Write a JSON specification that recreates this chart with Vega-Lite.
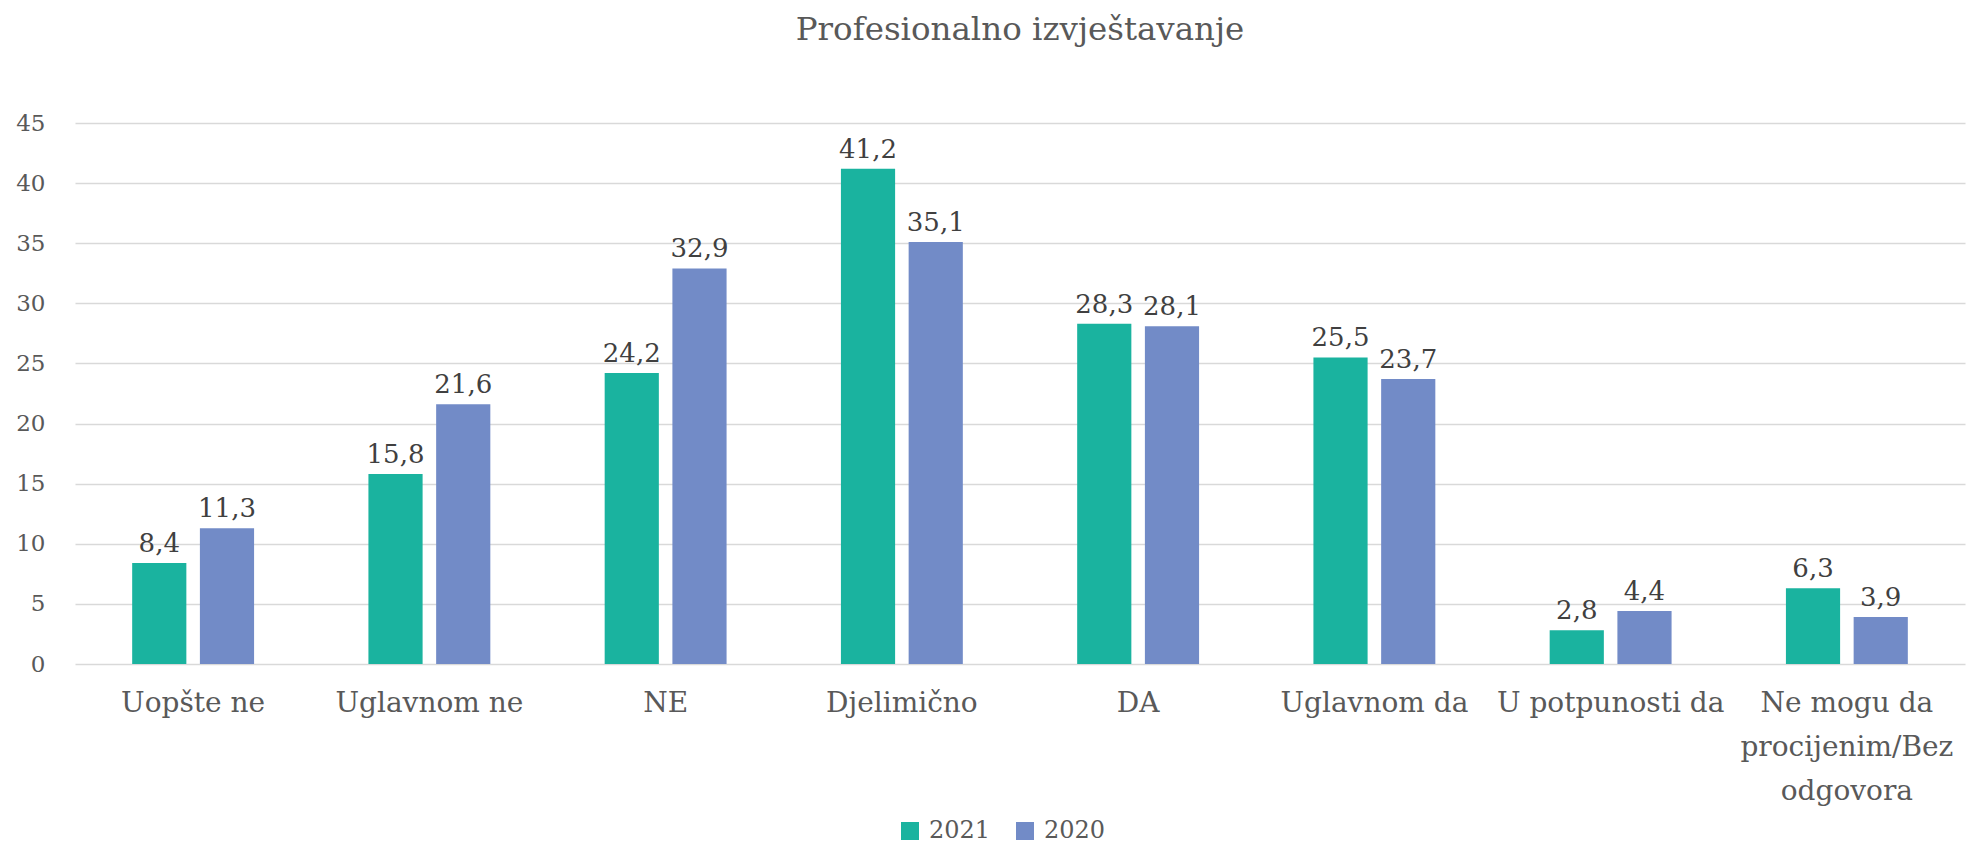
{
  "$schema": "https://vega.github.io/schema/vega-lite/v6.json",
  "width": 1890,
  "height": 541,
  "autosize": {"type": "none"},
  "padding": {"left": 75, "top": 123, "right": 4, "bottom": 179},
  "background": "white",
  "title": {
    "text": "Profesionalno izvještavanje",
    "font": "DejaVu Serif",
    "fontSize": 32.5,
    "fontWeight": "normal",
    "color": "#595959",
    "anchor": "middle",
    "frame": "group",
    "baseline": "alphabetic",
    "offset": 40
  },
  "data": {
    "values": [
      {"kategorija": "Uopšte ne", "godina": "2021", "vrijednost": 8.4},
      {"kategorija": "Uopšte ne", "godina": "2020", "vrijednost": 11.3},
      {"kategorija": "Uglavnom ne", "godina": "2021", "vrijednost": 15.8},
      {"kategorija": "Uglavnom ne", "godina": "2020", "vrijednost": 21.6},
      {"kategorija": "NE", "godina": "2021", "vrijednost": 24.2},
      {"kategorija": "NE", "godina": "2020", "vrijednost": 32.9},
      {"kategorija": "Djelimično", "godina": "2021", "vrijednost": 41.2},
      {"kategorija": "Djelimično", "godina": "2020", "vrijednost": 35.1},
      {"kategorija": "DA", "godina": "2021", "vrijednost": 28.3},
      {"kategorija": "DA", "godina": "2020", "vrijednost": 28.1},
      {"kategorija": "Uglavnom da", "godina": "2021", "vrijednost": 25.5},
      {"kategorija": "Uglavnom da", "godina": "2020", "vrijednost": 23.7},
      {"kategorija": "U potpunosti da", "godina": "2021", "vrijednost": 2.8},
      {"kategorija": "U potpunosti da", "godina": "2020", "vrijednost": 4.4},
      {"kategorija": "Ne mogu da procijenim/Bez odgovora", "godina": "2021", "vrijednost": 6.3},
      {"kategorija": "Ne mogu da procijenim/Bez odgovora", "godina": "2020", "vrijednost": 3.9}
    ]
  },
  "encoding": {
    "x": {
      "field": "kategorija",
      "type": "nominal",
      "sort": null,
      "scale": {"paddingInner": 0.484, "paddingOuter": 0.242},
      "axis": {
        "title": null,
        "labelAngle": 0,
        "labelFont": "DejaVu Serif",
        "labelFontSize": 28,
        "labelColor": "#595959",
        "labelPadding": 25,
        "labelLineHeight": 44,
        "labelBaseline": "top",
        "ticks": false,
        "domain": false,
        "labelLimit": 400,
        "labelExpr": "datum.value == 'Ne mogu da procijenim/Bez odgovora' ? ['Ne mogu da', 'procijenim/Bez', 'odgovora'] : datum.value"
      }
    },
    "xOffset": {
      "field": "godina",
      "type": "nominal",
      "sort": ["2021", "2020"],
      "scale": {"paddingInner": 0.2, "paddingOuter": 0}
    },
    "y": {
      "field": "vrijednost",
      "type": "quantitative",
      "scale": {"domain": [0, 45], "nice": false},
      "axis": {
        "title": null,
        "values": [0, 5, 10, 15, 20, 25, 30, 35, 40, 45],
        "labelFont": "DejaVu Serif",
        "labelFontSize": 23,
        "labelColor": "#595959",
        "labelPadding": 30,
        "ticks": false,
        "domain": false,
        "gridColor": "#d9d9d9",
        "gridWidth": 1.5
      }
    }
  },
  "layer": [
    {
      "mark": {"type": "bar"},
      "encoding": {
        "color": {
          "field": "godina",
          "type": "nominal",
          "sort": ["2021", "2020"],
          "scale": {"domain": ["2021", "2020"], "range": ["#1ab39f", "#728bc7"]},
          "legend": {
            "title": null,
            "orient": "none",
            "direction": "horizontal",
            "legendX": 823,
            "legendY": 696,
            "symbolType": "square",
            "symbolSize": 324,
            "symbolStrokeWidth": 0,
            "labelFont": "DejaVu Serif",
            "labelFontSize": 24,
            "labelColor": "#595959",
            "labelOffset": 7,
            "columnPadding": 22
          }
        }
      }
    },
    {
      "mark": {
        "type": "text",
        "baseline": "alphabetic",
        "dy": -11,
        "font": "DejaVu Serif",
        "fontSize": 26,
        "color": "#404040"
      },
      "encoding": {
        "text": {"field": "vrijednost", "type": "quantitative", "format": ".1f"}
      }
    }
  ],
  "config": {
    "view": {"stroke": null},
    "locale": {"number": {"decimal": ",", "thousands": ".", "grouping": [3], "currency": ["", " KM"]}}
  }
}
